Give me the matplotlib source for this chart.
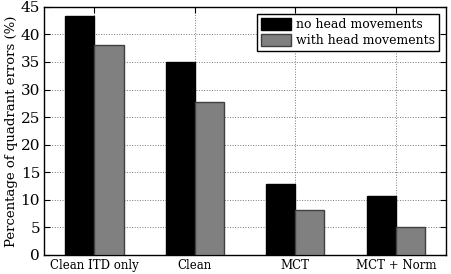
import numpy as np
from matplotlib import pyplot as plt

categories = ["Clean ITD only", "Clean", "MCT", "MCT + Norm"]
no_head = [43.4, 35.0, 12.8, 10.6]
with_head = [38.1, 27.7, 8.2, 5.1]

plt.rcParams["font.family"] = ["DejaVu Serif"]

fig, ax = plt.subplots(figsize=(4.51, 2.74), dpi=100)
fig.subplots_adjust(left=0.098, right=0.989, top=0.975, bottom=0.07)

x = np.arange(len(categories))
w = 0.29
ax.bar(x - w / 2, no_head, w, color="black", edgecolor="black", label="no head movements", zorder=3)
ax.bar(x + w / 2, with_head, w, color="#808080", edgecolor="#404040", label="with head movements", zorder=3)

ax.set_xlim(-0.5, 3.5)
ax.set_ylim(0, 45)
ax.set_yticks(np.arange(0, 46, 5))
ax.set_xticks(x)
ax.set_xticklabels(categories, fontsize=8.5)
ax.tick_params(axis="y", labelsize=11, direction="in", right=True, length=4, pad=3)
ax.tick_params(axis="x", direction="in", top=True, length=4, pad=3)
ax.set_ylabel("Percentage of quadrant errors (%)", fontsize=9.5, labelpad=2)
ax.grid(True, linestyle=":", color="#777777", linewidth=0.7, zorder=0)
ax.set_axisbelow(True)
for s in ax.spines.values():
    s.set_linewidth(1.0)

leg = ax.legend(loc="upper right", fontsize=9, fancybox=False, framealpha=1,
                edgecolor="black", borderaxespad=0.6, handlelength=2.4, handleheight=1.1,
                handletextpad=0.4, borderpad=0.3, labelspacing=0.2)
leg.get_frame().set_linewidth(1.0)

fig.savefig("out.png", dpi=100)
